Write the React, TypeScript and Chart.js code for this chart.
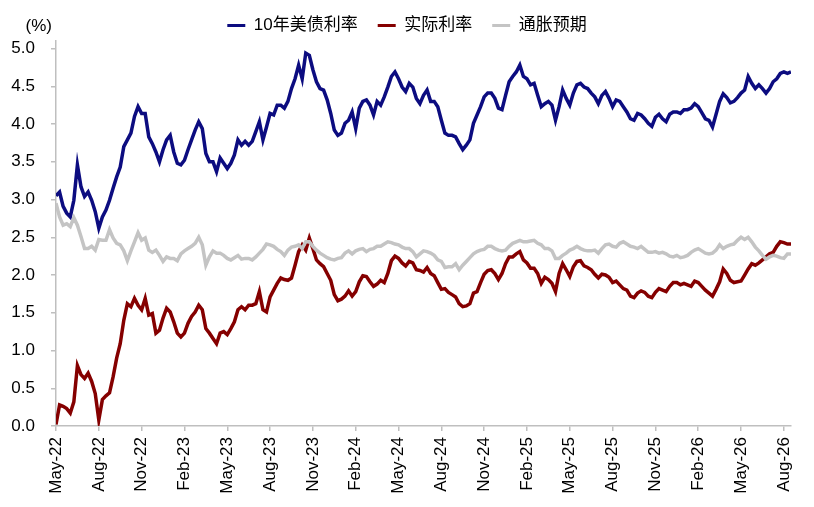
import { useEffect, useRef } from "react"
import { Chart, registerables } from "chart.js"

Chart.register(...registerables)

// x axis: months since May-22, one point per quarter month
const tickLabels = [
  "May-22", "Aug-22", "Nov-22", "Feb-23", "May-23", "Aug-23", "Nov-23", "Feb-24", "May-24",
  "Aug-24", "Nov-24", "Feb-25", "May-25", "Aug-25", "Nov-25", "Feb-26", "May-26", "Aug-26",
]
const stepMonths = 0.25

// 10年美债利率
const us10y = [
  3.05, 3.10, 2.91, 2.82, 2.77, 2.99, 3.46, 3.17, 3.04, 3.10,
  2.99, 2.84, 2.62, 2.77, 2.86, 2.99, 3.15, 3.30, 3.43, 3.70,
  3.79, 3.88, 4.10, 4.23, 4.14, 4.14, 3.83, 3.74, 3.63, 3.50,
  3.66, 3.79, 3.85, 3.63, 3.48, 3.46, 3.52, 3.66, 3.79, 3.92,
  4.03, 3.94, 3.61, 3.50, 3.50, 3.37, 3.55, 3.48, 3.41, 3.48,
  3.59, 3.79, 3.72, 3.77, 3.72, 3.77, 3.90, 4.03, 3.79, 3.96,
  4.14, 4.12, 4.25, 4.25, 4.21, 4.30, 4.47, 4.60, 4.78, 4.60,
  4.94, 4.91, 4.72, 4.56, 4.47, 4.45, 4.32, 4.14, 3.92, 3.85,
  3.88, 4.01, 4.05, 4.16, 3.94, 4.21, 4.30, 4.32, 4.25, 4.12,
  4.30, 4.25, 4.36, 4.49, 4.63, 4.69, 4.60, 4.49, 4.43, 4.54,
  4.49, 4.34, 4.27, 4.38, 4.45, 4.30, 4.30, 4.23, 4.05, 3.88,
  3.85, 3.85, 3.83, 3.74, 3.66, 3.72, 3.79, 4.01, 4.12, 4.23,
  4.36, 4.41, 4.41, 4.34, 4.21, 4.19, 4.38, 4.56, 4.63, 4.69,
  4.78, 4.63, 4.60, 4.52, 4.54, 4.38, 4.23, 4.27, 4.30, 4.25,
  4.05, 4.23, 4.45, 4.34, 4.25, 4.41, 4.52, 4.54, 4.49, 4.47,
  4.41, 4.36, 4.27, 4.38, 4.43, 4.34, 4.23, 4.32, 4.30, 4.23,
  4.16, 4.07, 4.05, 4.14, 4.12, 4.07, 4.01, 3.97, 4.09, 4.13,
  4.07, 4.03, 4.13, 4.16, 4.16, 4.14, 4.19, 4.19, 4.21, 4.27,
  4.23, 4.15, 4.07, 4.05, 3.96, 4.13, 4.30, 4.40, 4.35, 4.28,
  4.30, 4.35, 4.41, 4.45, 4.63, 4.54, 4.47, 4.52, 4.47, 4.41,
  4.47, 4.56, 4.60, 4.67, 4.69, 4.67, 4.69,
]

// 实际利率
const realRate = [
  0.02, 0.28, 0.26, 0.23, 0.17, 0.32, 0.80, 0.68, 0.63, 0.70,
  0.59, 0.43, 0.08, 0.35, 0.40, 0.44, 0.65, 0.90, 1.09, 1.40,
  1.62, 1.58, 1.69, 1.60, 1.54, 1.69, 1.47, 1.49, 1.23, 1.27,
  1.43, 1.56, 1.51, 1.38, 1.23, 1.18, 1.23, 1.36, 1.45, 1.51,
  1.60, 1.54, 1.29, 1.23, 1.16, 1.09, 1.23, 1.25, 1.21, 1.29,
  1.38, 1.54, 1.58, 1.54, 1.60, 1.60, 1.62, 1.78, 1.54, 1.51,
  1.71, 1.80, 1.89, 1.96, 1.94, 1.93, 1.96, 2.13, 2.31, 2.40,
  2.33, 2.49, 2.35, 2.20, 2.15, 2.11, 2.02, 1.93, 1.74, 1.66,
  1.68, 1.72, 1.79, 1.72, 1.78, 1.91, 1.99, 1.98, 1.91, 1.85,
  1.88, 1.93, 1.90, 2.02, 2.19, 2.25, 2.22, 2.16, 2.12, 2.18,
  2.16, 2.07, 2.06, 2.04, 2.10, 2.02, 1.99, 1.90, 1.81, 1.82,
  1.77, 1.74, 1.71, 1.62, 1.58, 1.59, 1.62, 1.76, 1.78, 1.90,
  2.01, 2.06, 2.07, 2.02, 1.94, 2.02, 2.15, 2.24, 2.24, 2.28,
  2.31, 2.20, 2.16, 2.09, 2.09, 2.02, 1.89, 1.97, 1.94, 1.89,
  1.78, 2.02, 2.15, 2.07, 1.98, 2.11, 2.18, 2.19, 2.12, 2.10,
  2.07, 2.01, 1.96, 2.01, 2.00, 1.97, 1.90, 1.92, 1.87, 1.82,
  1.80, 1.72, 1.70, 1.76, 1.79, 1.77, 1.72, 1.70, 1.77, 1.82,
  1.80, 1.78, 1.85, 1.90, 1.90, 1.87, 1.89, 1.87, 1.85, 1.92,
  1.90, 1.85, 1.80, 1.76, 1.72, 1.81, 1.91, 2.08, 2.02, 1.93,
  1.90, 1.91, 1.92, 2.00, 2.08, 2.15, 2.13, 2.16, 2.20, 2.24,
  2.28, 2.30, 2.38, 2.44, 2.43, 2.41, 2.41,
]

// 通胀预期
const inflationExp = [
  2.95, 2.77, 2.66, 2.68, 2.64, 2.76, 2.66, 2.51, 2.35, 2.35,
  2.38, 2.33, 2.47, 2.46, 2.46, 2.60, 2.49, 2.42, 2.40, 2.32,
  2.19, 2.32, 2.44, 2.56, 2.46, 2.49, 2.33, 2.30, 2.33, 2.26,
  2.18, 2.24, 2.22, 2.22, 2.19, 2.28, 2.32, 2.35, 2.38, 2.42,
  2.50, 2.40, 2.13, 2.24, 2.32, 2.29, 2.29, 2.26, 2.22, 2.20,
  2.23, 2.26, 2.21, 2.22, 2.22, 2.20, 2.24, 2.29, 2.34, 2.41,
  2.40, 2.38, 2.34, 2.31, 2.26, 2.33, 2.37, 2.38, 2.40, 2.35,
  2.44, 2.44, 2.38, 2.33, 2.29, 2.26, 2.23, 2.21, 2.20, 2.22,
  2.23, 2.29, 2.32, 2.28, 2.32, 2.34, 2.35, 2.31, 2.34, 2.35,
  2.38, 2.38, 2.41, 2.44, 2.43, 2.41, 2.40, 2.37, 2.35, 2.35,
  2.31, 2.24, 2.28, 2.32, 2.31, 2.29, 2.26, 2.20, 2.18, 2.10,
  2.11, 2.11, 2.15, 2.07, 2.13, 2.18, 2.23, 2.28, 2.31, 2.33,
  2.34, 2.38, 2.38, 2.35, 2.33, 2.32, 2.33, 2.38, 2.42, 2.44,
  2.46, 2.44, 2.44, 2.45, 2.46, 2.42, 2.40, 2.35, 2.35, 2.32,
  2.22, 2.22, 2.26, 2.29, 2.33, 2.35, 2.38, 2.35, 2.33, 2.32,
  2.32, 2.33, 2.29, 2.35, 2.40, 2.41, 2.38, 2.37, 2.42, 2.44,
  2.41, 2.38, 2.37, 2.35, 2.38, 2.34, 2.30, 2.30, 2.31, 2.29,
  2.30, 2.28, 2.25, 2.24, 2.26, 2.23, 2.24, 2.26, 2.30, 2.33,
  2.35, 2.32, 2.29, 2.28, 2.29, 2.33, 2.40, 2.35, 2.38, 2.40,
  2.41, 2.46, 2.50, 2.47, 2.50, 2.44, 2.37, 2.32, 2.26, 2.21,
  2.24, 2.26, 2.25, 2.23, 2.22, 2.28, 2.28,
]

const FONT = '"Liberation Sans", Arial, "Noto Sans CJK SC", sans-serif'
const AXIS = "#bfbfbf"

const toPoints = (values: number[]) => values.map((y, i) => ({ x: i * stepMonths, y }))

// "(%)" unit text above the y axis
const unitLabel = {
  id: "unitLabel",
  afterDraw(chart: Chart) {
    const { ctx, scales } = chart
    ctx.save()
    ctx.font = `17px ${FONT}`
    ctx.fillStyle = "#000"
    ctx.textAlign = "right"
    ctx.textBaseline = "middle"
    ctx.fillText("(%)", scales.y.right - 4, 26)
    ctx.restore()
  },
}

// centre the legend on the whole canvas and nudge it down a little
const legendShift = {
  id: "legendShift",
  afterLayout(chart: Chart) {
    const legend = chart.legend
    if (!legend) return
    legend.left = 0
    legend.right = chart.width
    legend.top += 3
    legend.bottom += 3
  },
}

export default function App() {
  const chartRef = useRef<HTMLCanvasElement>(null)
  const chartInstance = useRef<Chart | null>(null)

  useEffect(() => {
    document.body.style.margin = "0"
    if (!chartRef.current) return
    const ctx = chartRef.current.getContext("2d")
    if (!ctx) return

    if (chartInstance.current) chartInstance.current.destroy()

    chartInstance.current = new Chart(ctx, {
      type: "line",
      data: {
        datasets: [
          { label: "10年美债利率", data: toPoints(us10y), borderColor: "#0c0c80", backgroundColor: "#0c0c80", order: 3 },
          { label: "实际利率", data: toPoints(realRate), borderColor: "#850000", backgroundColor: "#850000", order: 2 },
          { label: "通胀预期", data: toPoints(inflationExp), borderColor: "#c4c4c4", backgroundColor: "#c4c4c4", order: 1 },
        ],
      },
      options: {
        animation: false,
        responsive: false,
        elements: {
          line: { borderWidth: 3.5, tension: 0 },
          point: { radius: 0, borderWidth: 3 },
        },
        layout: { padding: { top: -6, right: 23, left: 0, bottom: 0 } },
        plugins: {
          legend: {
            position: "top",
            labels: {
              font: { family: FONT, size: 17 },
              color: "#000",
              usePointStyle: true,
              pointStyle: "line",
              pointStyleWidth: 18,
              padding: 20,
              sort: (a, b) => (a.datasetIndex ?? 0) - (b.datasetIndex ?? 0),
            },
          },
          tooltip: { enabled: false },
        },
        scales: {
          x: {
            type: "linear",
            min: 0,
            max: 51.5,
            afterFit: (scale) => {
              scale.height = 81
            },
            grid: { drawOnChartArea: false, tickLength: 5, color: AXIS, lineWidth: 1.5 },
            border: { color: AXIS, width: 1.5 },
            ticks: {
              stepSize: 3,
              includeBounds: false,
              autoSkip: false,
              minRotation: 90,
              maxRotation: 90,
              padding: 6,
              color: "#000",
              font: { family: FONT, size: 17 },
              callback: (value) => tickLabels[Math.round(Number(value) / 3)] ?? "",
            },
          },
          y: {
            min: 0,
            max: 5.1,
            afterFit: (scale) => {
              scale.width = 56
            },
            grid: { drawOnChartArea: false, tickLength: 5, color: AXIS, lineWidth: 1.5 },
            border: { color: AXIS, width: 1.5 },
            ticks: {
              stepSize: 0.5,
              includeBounds: false,
              padding: 16,
              color: "#000",
              font: { family: FONT, size: 17 },
              callback: (value) => Number(value).toFixed(1),
            },
          },
        },
      },
      plugins: [unitLabel, legendShift],
    })

    return () => {
      if (chartInstance.current) {
        chartInstance.current.destroy()
        chartInstance.current = null
      }
    }
  }, [])

  return (
    <div style={{ width: 814, height: 507 }}>
      <canvas ref={chartRef} width={814} height={507} style={{ width: 814, height: 507 }}></canvas>
    </div>
  )
}
